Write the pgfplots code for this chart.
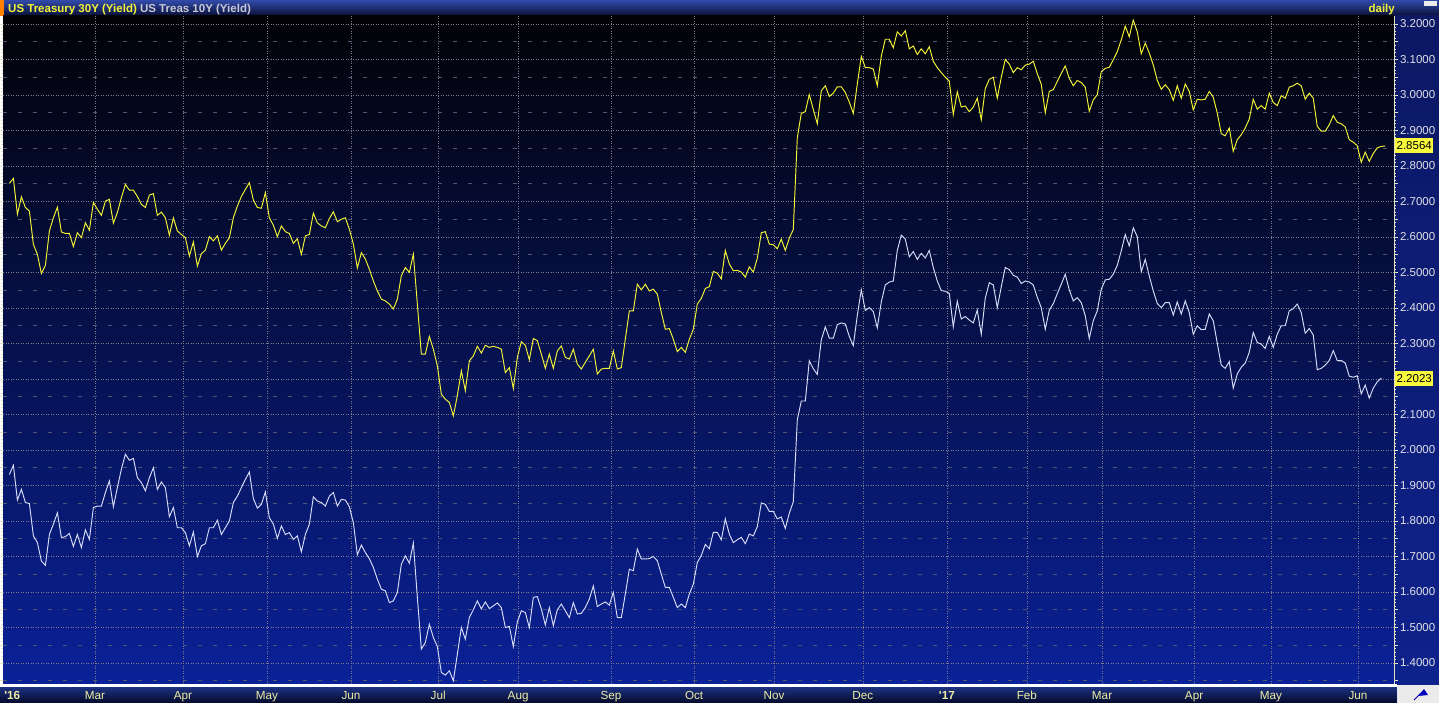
\documentclass[border=0pt]{standalone}
\usepackage{fontspec}
\setmainfont{Liberation Sans}
\usepackage{pgfplots}
\pgfplotsset{compat=1.18}
\usepackage{pgfplotstable}
\definecolor{bbyellow}{RGB}{245,245,55}
\definecolor{bbwhite}{RGB}{215,220,248}
\definecolor{gridc}{RGB}{125,125,145}
\definecolor{dashc}{RGB}{80,85,115}
\definecolor{labyel}{RGB}{238,238,165}
\definecolor{ylabc}{RGB}{225,225,230}
\definecolor{titlegray}{RGB}{200,200,212}
\definecolor{boxyel}{RGB}{250,250,60}
\definecolor{tickc}{RGB}{225,225,200}

\pgfplotstableread{
k y
0 2.751
1 2.765
2 2.664
3 2.713
4 2.683
5 2.673
6 2.579
7 2.551
8 2.497
9 2.520
10 2.617
11 2.654
12 2.684
13 2.614
14 2.610
15 2.610
16 2.573
17 2.612
18 2.598
19 2.640
20 2.619
21 2.697
22 2.678
23 2.661
24 2.701
25 2.706
26 2.639
27 2.669
28 2.711
29 2.748
30 2.732
31 2.732
32 2.714
33 2.692
34 2.683
35 2.718
36 2.722
37 2.661
38 2.670
39 2.654
40 2.605
41 2.654
42 2.617
43 2.607
44 2.598
45 2.546
46 2.586
47 2.518
48 2.553
49 2.563
50 2.601
51 2.589
52 2.603
53 2.563
54 2.582
55 2.598
56 2.654
57 2.687
58 2.714
59 2.734
60 2.753
61 2.704
62 2.683
63 2.681
64 2.725
65 2.654
66 2.633
67 2.601
68 2.631
69 2.615
70 2.610
71 2.582
72 2.595
73 2.551
74 2.603
75 2.607
76 2.667
77 2.640
78 2.631
79 2.626
80 2.652
81 2.671
82 2.643
83 2.650
84 2.654
85 2.622
86 2.580
87 2.513
88 2.556
89 2.538
90 2.509
91 2.476
92 2.448
93 2.425
94 2.420
95 2.411
96 2.397
97 2.425
98 2.491
99 2.514
100 2.500
101 2.552
102 2.411
103 2.270
104 2.270
105 2.320
106 2.284
107 2.237
108 2.157
109 2.143
110 2.134
111 2.096
112 2.153
113 2.223
114 2.167
115 2.251
116 2.265
117 2.292
118 2.273
119 2.295
120 2.289
121 2.292
122 2.289
123 2.284
124 2.218
125 2.232
126 2.173
127 2.261
128 2.305
129 2.295
130 2.254
131 2.314
132 2.308
133 2.270
134 2.230
135 2.270
136 2.230
137 2.279
138 2.293
139 2.261
140 2.256
141 2.284
142 2.242
143 2.228
144 2.247
145 2.265
146 2.284
147 2.214
148 2.228
149 2.230
150 2.230
151 2.279
152 2.228
153 2.232
154 2.312
155 2.392
156 2.392
157 2.467
158 2.451
159 2.467
160 2.448
161 2.453
162 2.439
163 2.387
164 2.340
165 2.342
166 2.312
167 2.277
168 2.289
169 2.275
170 2.312
171 2.340
172 2.411
173 2.427
174 2.455
175 2.460
176 2.503
177 2.498
178 2.482
179 2.562
180 2.524
181 2.505
182 2.506
183 2.501
184 2.487
185 2.516
186 2.501
187 2.540
188 2.612
189 2.615
190 2.580
191 2.578
192 2.567
193 2.594
194 2.562
195 2.597
196 2.621
197 2.880
198 2.948
199 2.953
200 3.001
201 2.959
202 2.919
203 3.012
204 3.026
205 2.996
206 3.005
207 3.023
208 3.023
209 3.007
210 2.980
211 2.948
212 3.031
213 3.109
214 3.077
215 3.077
216 3.073
217 3.026
218 3.109
219 3.157
220 3.157
221 3.133
222 3.178
223 3.166
224 3.181
225 3.130
226 3.138
227 3.114
228 3.130
229 3.116
230 3.136
231 3.095
232 3.077
233 3.063
234 3.050
235 3.039
236 2.945
237 3.009
238 2.966
239 2.969
240 2.953
241 2.966
242 2.991
243 2.930
244 3.018
245 3.044
246 3.050
247 2.991
248 3.050
249 3.100
250 3.087
251 3.063
252 3.077
253 3.071
254 3.084
255 3.087
256 3.095
257 3.060
258 3.030
259 2.950
260 3.010
261 3.015
262 3.038
263 3.061
264 3.082
265 3.047
266 3.026
267 3.041
268 3.035
269 3.022
270 2.954
271 2.986
272 3.001
273 3.066
274 3.075
275 3.078
276 3.099
277 3.122
278 3.155
279 3.194
280 3.164
281 3.211
282 3.178
283 3.116
284 3.146
285 3.118
286 3.085
287 3.041
288 3.016
289 3.029
290 3.015
291 2.985
292 3.026
293 2.991
294 3.031
295 3.010
296 2.958
297 2.988
298 2.986
299 2.988
300 3.010
301 2.994
302 2.949
303 2.891
304 2.885
305 2.907
306 2.841
307 2.874
308 2.888
309 2.907
310 2.932
311 2.988
312 2.960
313 2.970
314 2.960
315 3.005
316 2.979
317 2.970
318 2.998
319 2.991
320 3.022
321 3.026
322 3.033
323 3.026
324 2.988
325 3.005
326 2.991
327 2.912
328 2.898
329 2.898
330 2.916
331 2.942
332 2.923
333 2.919
334 2.910
335 2.874
336 2.867
337 2.857
338 2.810
339 2.839
340 2.813
341 2.835
342 2.851
343 2.855
344 2.8564
}\tthirty

\pgfplotstableread{
k y
0 1.931
1 1.957
2 1.859
3 1.889
4 1.852
5 1.849
6 1.758
7 1.739
8 1.687
9 1.675
10 1.762
11 1.791
12 1.823
13 1.753
14 1.756
15 1.765
16 1.728
17 1.762
18 1.725
19 1.775
20 1.748
21 1.838
22 1.842
23 1.842
24 1.880
25 1.913
26 1.840
27 1.894
28 1.946
29 1.988
30 1.971
31 1.976
32 1.922
33 1.908
34 1.885
35 1.922
36 1.950
37 1.889
38 1.910
39 1.894
40 1.812
41 1.838
42 1.781
43 1.781
44 1.767
45 1.730
46 1.769
47 1.700
48 1.730
49 1.736
50 1.781
51 1.781
52 1.802
53 1.762
54 1.781
55 1.800
56 1.852
57 1.870
58 1.894
59 1.917
60 1.938
61 1.863
62 1.836
63 1.847
64 1.882
65 1.809
66 1.791
67 1.751
68 1.786
69 1.762
70 1.767
71 1.748
72 1.758
73 1.713
74 1.762
75 1.791
76 1.868
77 1.856
78 1.852
79 1.842
80 1.870
81 1.880
82 1.842
83 1.861
84 1.859
85 1.840
86 1.795
87 1.705
88 1.732
89 1.711
90 1.694
91 1.669
92 1.636
93 1.608
94 1.603
95 1.570
96 1.575
97 1.599
98 1.678
99 1.702
100 1.681
101 1.738
102 1.585
103 1.439
104 1.458
105 1.509
106 1.472
107 1.446
108 1.373
109 1.366
110 1.378
111 1.350
112 1.425
113 1.500
114 1.467
115 1.528
116 1.550
117 1.575
118 1.552
119 1.572
120 1.553
121 1.561
122 1.569
123 1.556
124 1.500
125 1.503
126 1.446
127 1.516
128 1.547
129 1.542
130 1.500
131 1.585
132 1.587
133 1.552
134 1.507
135 1.556
136 1.505
137 1.550
138 1.566
139 1.547
140 1.528
141 1.570
142 1.538
143 1.540
144 1.556
145 1.580
146 1.617
147 1.559
148 1.566
149 1.572
150 1.563
151 1.599
152 1.528
153 1.528
154 1.594
155 1.664
156 1.660
157 1.721
158 1.693
159 1.693
160 1.694
161 1.700
162 1.688
163 1.650
164 1.613
165 1.613
166 1.585
167 1.556
168 1.566
169 1.556
170 1.594
171 1.622
172 1.683
173 1.703
174 1.734
175 1.722
176 1.768
177 1.768
178 1.747
179 1.806
180 1.763
181 1.739
182 1.747
183 1.754
184 1.736
185 1.763
186 1.758
187 1.784
188 1.851
189 1.847
190 1.827
191 1.827
192 1.806
193 1.811
194 1.779
195 1.822
196 1.854
197 2.085
198 2.138
199 2.138
200 2.251
201 2.229
202 2.213
203 2.310
204 2.347
205 2.315
206 2.315
207 2.353
208 2.358
209 2.355
210 2.320
211 2.294
212 2.379
213 2.451
214 2.393
215 2.401
216 2.390
217 2.344
218 2.417
219 2.465
220 2.473
221 2.476
222 2.562
223 2.605
224 2.594
225 2.544
226 2.559
227 2.537
228 2.554
229 2.541
230 2.562
231 2.514
232 2.476
233 2.449
234 2.447
235 2.441
236 2.347
237 2.419
238 2.369
239 2.376
240 2.366
241 2.358
242 2.394
243 2.326
244 2.428
245 2.471
246 2.465
247 2.401
248 2.460
249 2.514
250 2.508
251 2.492
252 2.487
253 2.469
254 2.476
255 2.473
256 2.465
257 2.430
258 2.401
259 2.340
260 2.394
261 2.412
262 2.440
263 2.467
264 2.495
265 2.451
266 2.420
267 2.429
268 2.415
269 2.378
270 2.314
271 2.364
272 2.392
273 2.453
274 2.479
275 2.481
276 2.495
277 2.520
278 2.561
279 2.607
280 2.575
281 2.626
282 2.601
283 2.502
284 2.537
285 2.490
286 2.448
287 2.413
288 2.401
289 2.415
290 2.415
291 2.380
292 2.417
293 2.383
294 2.420
295 2.387
296 2.326
297 2.350
298 2.339
299 2.340
300 2.383
301 2.364
302 2.301
303 2.239
304 2.230
305 2.249
306 2.174
307 2.214
308 2.233
309 2.245
310 2.275
311 2.331
312 2.303
313 2.298
314 2.286
315 2.320
316 2.289
317 2.326
318 2.350
319 2.350
320 2.392
321 2.398
322 2.411
323 2.387
324 2.329
325 2.342
326 2.324
327 2.226
328 2.230
329 2.239
330 2.252
331 2.280
332 2.252
333 2.252
334 2.245
335 2.208
336 2.205
337 2.209
338 2.158
339 2.183
340 2.146
341 2.174
342 2.192
343 2.2023
}\tten

\begin{document}
\begin{tikzpicture}[x=1pt,y=1pt]
\useasboundingbox (0,0) rectangle (1439,703);
% title bar
\shade[top color={rgb,255:red,50;green,75;blue,170}, bottom color={rgb,255:red,8;green,14;blue,52}] (0,687) rectangle (1439,703);
\fill[orange] (0,687) rectangle (3.5,703);
\node[anchor=base west, inner sep=0pt, font=\bfseries\fontsize{11.5}{12}\selectfont] at (8,690.5)
  {\textcolor{bbyellow}{US Treasury 30Y (Yield)} \textcolor{titlegray}{US Treas 10Y (Yield)}};
\node[anchor=base east, inner sep=0pt, font=\bfseries\fontsize{11.5}{12}\selectfont, text=bbyellow] at (1395,690.5) {daily};
\fill[white!85!gray] (1424,697) rectangle (1437,702);
% right panel
\shade[top color={rgb,255:red,12;green,24;blue,100}, bottom color={rgb,255:red,14;green,34;blue,140}] (1394,18) rectangle (1439,687);
% bottom bar
\shade[top color={rgb,255:red,28;green,50;blue,130}, bottom color={rgb,255:red,5;green,10;blue,42}] (0,0) rectangle (1397,16);
\draw[white, line width=0.9pt] (0,18.4) -- (1397,18.4);
\draw[white, line width=0.9pt] (0,16.2) -- (1397,16.2);
% corner box
\fill[white!84!gray] (1398,0) rectangle (1439,17.5);
\draw[blue!70!black, line width=0.8pt] (1414,3) -- (1421,10);
\fill[blue!75!black] (1418,7) -- (1424,14) -- (1428,8) -- cycle;

\begin{axis}[
  at={(3pt,19pt)}, anchor=south west,
  scale only axis, width=1391pt, height=668pt,
  xmin=-1.6, xmax=346.2, ymin=1.3408, ymax=3.2225,
  axis background/.style={shade, top color={rgb,255:red,2;green,2;blue,6},
     middle color={rgb,255:red,5;green,15;blue,68},
     bottom color={rgb,255:red,10;green,33;blue,152}},
  axis line style={draw=none},
  tick align=outside,
  xtick={21.4,43.4,64.4,85.4,107.2,127.2,150.4,171.2,191.2,213.4,234.4,254.4,273.2,296.2,315.4,337.2},
  xticklabels={Mar,Apr,May,Jun,Jul,Aug,Sep,Oct,Nov,Dec,{\textbf{\textquotesingle17}},Feb,Mar,Apr,May,Jun},
  extra x ticks={0.7},
  extra x tick labels={{\textbf{\textquotesingle16}}},
  extra x tick style={grid=none},
  xtick style={draw=none},
  xticklabel style={font=\fontsize{11.7}{12}\selectfont, text=labyel, anchor=base, yshift=-12pt},
  ytick={1.4,1.5,1.6,1.7,1.8,1.9,2.0,2.1,2.2,2.3,2.4,2.5,2.6,2.7,2.8,2.9,3.0,3.1,3.2},
  yticklabels={1.4000,1.5000,1.6000,1.7000,1.8000,1.9000,2.0000,2.1000,{},2.3000,2.4000,2.5000,2.6000,2.7000,2.8000,2.9000,3.0000,3.1000,3.2000},
  minor y tick num=9,
  ytick pos=both,
  yticklabel pos=right,
  major tick length=3.5pt, minor tick length=2pt,
  ytick style={color=tickc, line width=0.6pt},
  yticklabel style={font=\fontsize{11.5}{12}\selectfont, text=ylabc, xshift=-1pt},
  extra y ticks={1.35,1.45,1.55,1.65,1.75,1.85,1.95,2.05,2.15,2.25,2.35,2.45,2.55,2.65,2.75,2.85,2.95,3.05,3.15},
  extra y tick labels={},
  extra y tick style={grid=major, major grid style={dashc, dash pattern=on 4pt off 11pt, line width=0.8pt}},
  xmajorgrids, ymajorgrids,
  major grid style={gridc, dash pattern=on 0.8pt off 1.7pt, line width=0.6pt},
  clip=false,
]
\addplot[bbwhite, line width=0.95pt] table[x=k, y=y] {\tten};
\addplot[bbyellow, line width=0.95pt] table[x=k, y=y] {\tthirty};
\draw[tickc, line width=0.6pt] (rel axis cs:1,0) -- (rel axis cs:1,1);
\coordinate (v30) at (axis cs:346.2,2.8564);
\coordinate (v10) at (axis cs:346.2,2.2023);
\end{axis}
\node[anchor=west, fill=boxyel, text=black, inner xsep=1.2pt, inner ysep=0pt, minimum height=15pt, font=\fontsize{11.5}{12}\selectfont, xshift=1.2pt] at (v30) {2.8564};
\node[anchor=west, fill=boxyel, text=black, inner xsep=1.2pt, inner ysep=0pt, minimum height=15pt, font=\fontsize{11.5}{12}\selectfont, xshift=1.2pt] at (v10) {2.2023};
\end{tikzpicture}
\end{document}
